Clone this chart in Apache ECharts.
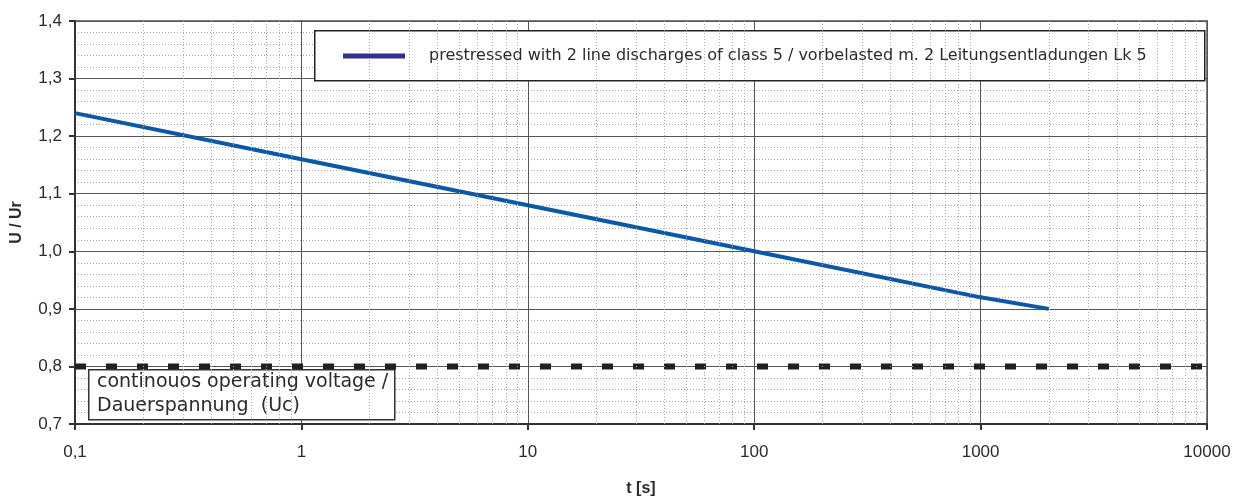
<!DOCTYPE html>
<html><head><meta charset="utf-8">
<script src="https://cdn.jsdelivr.net/npm/echarts@6/dist/echarts.min.js"></script>
<style>html,body{margin:0;padding:0;background:#fff}#c{width:1245px;height:499px}</style>
</head><body><div id="c"></div>
<script>
// data
const timeS = [0.1, 1, 10, 100, 1000, 2000];
const uRatio = [1.24, 1.16, 1.08, 1.0, 0.92, 0.9];
const ucLevel = 0.8;
const ucRange = [0.1, 10000];
const seriesName = 'prestressed with 2 line discharges of class 5 / vorbelasted m. 2 Leitungsentladungen Lk 5';
const noteLines = ['continouos operating voltage /', 'Dauerspannung  (Uc)'];
const decades = [0.1, 1, 10, 100, 1000];
const minorMult = [2, 3, 4, 5, 6, 7, 8, 9];

const minorX = [];
decades.forEach(d => minorMult.forEach(m => minorX.push({xAxis: +(d * m).toPrecision(6)})));

const fmt = v => String(+(+v).toPrecision(6)).replace('.', ',');
const chart = echarts.init(document.getElementById('c'), null, {renderer: 'canvas'});
const txt = '#2b2b2b';
chart.setOption({
  animation: false,
  grid: {left: 75, right: 38, top: 21, bottom: 75, containLabel: false, outerBoundsMode: 'none',
    show: true, borderColor: '#7a7a7a', borderWidth: 2, backgroundColor: 'transparent'},
  xAxis: {
    type: 'log', logBase: 10, min: 0.1, max: 10000, splitNumber: 5,
    name: 't [s]', nameLocation: 'middle', nameGap: 57,
    nameTextStyle: {fontFamily: 'Liberation Sans', fontWeight: 'bold', fontSize: 16, color: txt},
    axisLine: {show: true, onZero: false, lineStyle: {color: '#333', width: 2}},
    axisTick: {show: true, length: 6, lineStyle: {color: '#333', width: 2}},
    axisLabel: {formatter: fmt, fontFamily: 'Liberation Sans', fontSize: 17, color: txt, margin: 20},
    splitLine: {show: true, lineStyle: {color: '#555', width: 1}},
    minorTick: {show: false}, minorSplitLine: {show: false}
  },
  yAxis: {
    type: 'value', min: 0.7, max: 1.4, interval: 0.1,
    name: 'U / Ur', nameLocation: 'middle', nameGap: 50,
    nameTextStyle: {fontFamily: 'Liberation Sans', fontWeight: 'bold', fontSize: 16, color: txt},
    axisLine: {show: true, lineStyle: {color: '#333', width: 2}},
    axisTick: {show: true, length: 6, lineStyle: {color: '#333', width: 2}},
    axisLabel: {formatter: v => (+v).toFixed(1).replace('.', ','), fontFamily: 'Liberation Sans', fontSize: 17, color: txt, margin: 13},
    splitLine: {show: true, lineStyle: {color: '#555', width: 1}},
    minorTick: {show: false, splitNumber: 5},
    minorSplitLine: {show: true, lineStyle: {color: '#aaa', width: 1, type: [1, 2]}}
  },
  legend: {
    show: true, left: 343, top: 48, padding: 0, z: 20, zlevel: 1,
    itemWidth: 62, itemHeight: 5, itemGap: 10,
    data: [{name: seriesName, icon: 'rect', itemStyle: {color: '#2e3192'}}],
    textStyle: {fontFamily: 'DejaVu Sans', fontSize: 16, color: txt, padding: [0, 0, 0, 19]}
  },
  graphic: [
    {type: 'rect', left: 314, top: 30, z: 5, shape: {width: 890, height: 50}, style: {fill: '#fff', stroke: '#222', lineWidth: 1.5}},
    {type: 'rect', left: 88, top: 369, z: 5, shape: {width: 306, height: 50}, style: {fill: '#fff', stroke: '#333', lineWidth: 1.5}},
    {type: 'text', left: 97, top: 370, z: 6, style: {text: noteLines.join('\n'), font: '19px "DejaVu Sans"', fill: txt, lineHeight: 24}}
  ],
  series: [
    {
      name: 'minor', type: 'line', data: [], silent: true,
      markLine: {silent: true, symbol: 'none', label: {show: false},
        lineStyle: {color: '#aaa', width: 1, type: [1, 2]}, data: minorX, animation: false}
    },
    {
      name: 'Uc', type: 'line', data: ucRange.map(x => [x, ucLevel]), symbol: 'none', z: 3,
      lineStyle: {color: '#231f20', width: 6, type: [11, 20], cap: 'butt'}
    },
    {
      name: seriesName, type: 'line', data: timeS.map((t, i) => [t, uRatio[i]]), symbol: 'none', z: 4,
      itemStyle: {color: '#2e3192'},
      lineStyle: {color: '#0b57a8', width: 4}
    }
  ]
});
</script></body></html>
